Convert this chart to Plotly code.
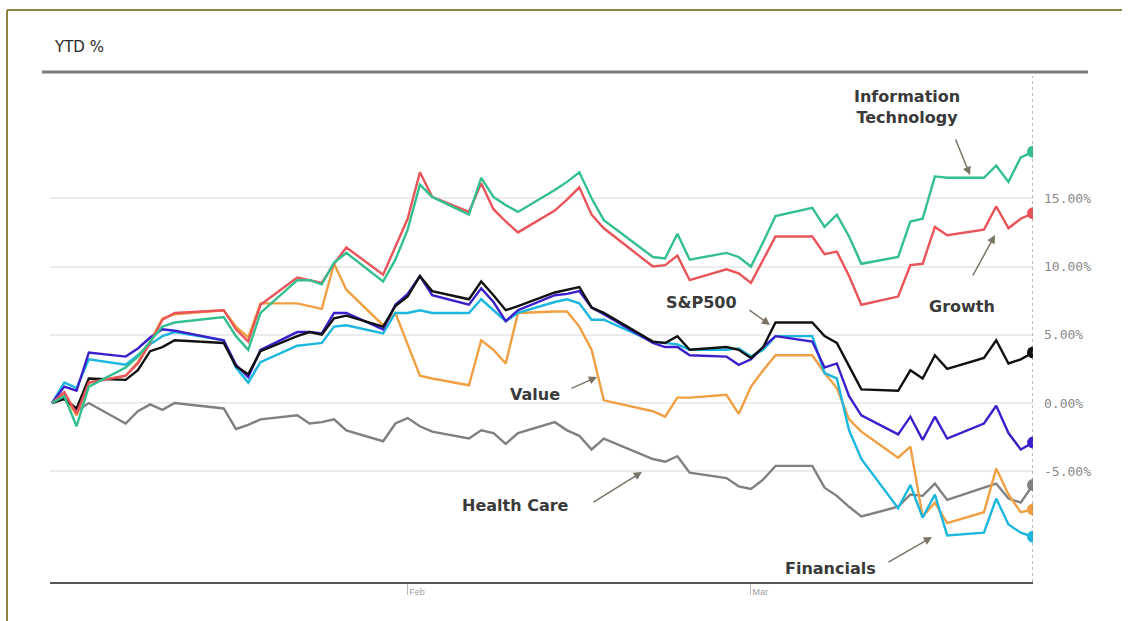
import plotly.graph_objects as go

# Trading days, Q1 2023 (calendar-date axis, weekends/holidays skipped)
dates = [
    "2023-01-03", "2023-01-04", "2023-01-05", "2023-01-06", "2023-01-09", "2023-01-10",
    "2023-01-11", "2023-01-12", "2023-01-13", "2023-01-17", "2023-01-18", "2023-01-19",
    "2023-01-20", "2023-01-23", "2023-01-24", "2023-01-25", "2023-01-26", "2023-01-27",
    "2023-01-30", "2023-01-31",
    "2023-02-01", "2023-02-02", "2023-02-03", "2023-02-06", "2023-02-07", "2023-02-08",
    "2023-02-09", "2023-02-10", "2023-02-13", "2023-02-14", "2023-02-15", "2023-02-16",
    "2023-02-17", "2023-02-21", "2023-02-22", "2023-02-23", "2023-02-24", "2023-02-27",
    "2023-02-28",
    "2023-03-01", "2023-03-02", "2023-03-03", "2023-03-06", "2023-03-07", "2023-03-08",
    "2023-03-09", "2023-03-10", "2023-03-13", "2023-03-14", "2023-03-15", "2023-03-16",
    "2023-03-17", "2023-03-20", "2023-03-21", "2023-03-22", "2023-03-23", "2023-03-24",
]

# YTD returns, %
info_tech = [
    0, 0.5, -1.7, 1.2, 2.6, 3.4, 4.5, 5.6, 5.9, 6.3, 4.9, 3.9, 6.6, 9.0, 9.0, 8.7, 10.3, 11.0, 8.9, 10.5,
    12.7, 16.0, 15.1, 13.8, 16.5, 15.1, 14.5, 14.0, 15.6, 16.2, 16.9, 15.0, 13.4, 10.7, 10.6, 12.4, 10.5, 11.0, 10.7,
    10.0, 11.8, 13.7, 14.3, 12.9, 13.8, 12.2, 10.2, 10.7, 13.3, 13.5, 16.6, 16.5, 16.5, 17.4, 16.2, 18.0, 18.4,
]
growth = [
    0, 0.8, -0.8, 1.5, 2.0, 2.9, 4.4, 6.1, 6.6, 6.8, 5.4, 4.5, 7.2, 9.2, 9.0, 8.8, 10.2, 11.4, 9.4, 11.5,
    13.5, 16.9, 15.1, 14.0, 16.1, 14.2, 13.3, 12.5, 14.1, 14.9, 15.8, 13.8, 12.8, 10.0, 10.1, 10.8, 9.0, 9.8, 9.5,
    8.8, 10.5, 12.2, 12.2, 10.9, 11.1, 9.3, 7.2, 7.8, 10.1, 10.2, 12.9, 12.3, 12.7, 14.4, 12.8, 13.5, 13.9,
]
sp500 = [
    0, 0.3, -0.4, 1.8, 1.7, 2.4, 3.8, 4.1, 4.6, 4.4, 2.7, 2.1, 3.8, 4.9, 5.2, 5.0, 6.2, 6.4, 5.6, 7.1,
    7.8, 9.3, 8.2, 7.6, 8.9, 7.9, 6.8, 7.1, 8.1, 8.3, 8.5, 7.0, 6.6, 4.5, 4.4, 4.9, 3.9, 4.1, 3.9,
    3.3, 4.1, 5.9, 5.9, 4.9, 4.4, 2.7, 1.0, 0.9, 2.4, 1.8, 3.5, 2.5, 3.3, 4.6, 2.9, 3.2, 3.7,
]
broad_index = [
    0, 1.2, 0.9, 3.7, 3.4, 4.0, 4.8, 5.4, 5.3, 4.6, 2.8, 1.9, 3.9, 5.2, 5.2, 5.1, 6.6, 6.6, 5.4, 7.2,
    8.0, 9.3, 7.9, 7.2, 8.4, 7.4, 6.0, 6.8, 7.9, 8.0, 8.2, 7.0, 6.5, 4.4, 4.1, 4.1, 3.5, 3.4, 2.8,
    3.2, 4.1, 4.9, 4.5, 2.6, 2.9, 0.5, -0.9, -2.3, -1.0, -2.7, -1.0, -2.6, -1.5, -0.2, -2.2, -3.4, -2.9,
]
financials = [
    0, 1.5, 1.1, 3.2, 2.8, 3.5, 4.3, 4.9, 5.2, 4.6, 2.6, 1.5, 3.0, 4.2, 4.3, 4.4, 5.6, 5.7, 5.1, 6.6,
    6.6, 6.8, 6.6, 6.6, 7.6, 6.8, 6.0, 6.6, 7.4, 7.6, 7.3, 6.1, 6.1, 4.5, 4.4, 4.3, 3.9, 3.9, 4.0,
    3.4, 3.9, 4.9, 4.9, 2.2, 1.8, -2.0, -4.1, -7.7, -6.0, -8.4, -6.7, -9.7, -9.5, -7.0, -8.9, -9.5, -9.8,
]
value = [
    0, 0.6, -0.9, 1.5, 2.0, 3.0, 4.5, 6.2, 6.5, 6.8, 5.6, 4.8, 7.3, 7.3, 7.1, 6.9, 10.2, 8.3, 5.7, 6.6,
    4.3, 2.0, 1.8, 1.3, 4.6, 3.9, 2.9, 6.6, 6.7, 6.7, 5.6, 3.9, 0.2, -0.6, -1.0, 0.4, 0.4, 0.6, -0.8,
    1.2, 2.4, 3.5, 3.5, 2.2, 1.1, -1.2, -2.1, -4.0, -3.2, -8.3, -7.3, -8.8, -8.0, -4.8, -6.7, -8.0, -7.8,
]
health_care = [
    0, 0.3, -0.6, 0.0, -1.5, -0.6, -0.1, -0.5, 0.0, -0.4, -1.9, -1.6, -1.2, -0.9, -1.5, -1.4, -1.2, -2.0, -2.8, -1.5,
    -1.1, -1.7, -2.1, -2.6, -2.0, -2.2, -3.0, -2.2, -1.4, -2.0, -2.4, -3.4, -2.6, -4.1, -4.3, -3.9, -5.1, -5.5, -6.1,
    -6.3, -5.6, -4.6, -4.6, -6.2, -6.8, -7.6, -8.3, -7.6, -6.7, -6.8, -5.9, -7.1, -6.2, -5.9, -7.0, -7.3, -6.0,
]

y_ticks = [-5, 0, 5, 10, 15]
y_tick_text = ["-5.00%", "0.00%", "5.00%", "10.00%", "15.00%"]
x_ticks = ["2023-02-01", "2023-03-01"]
x_tick_text = ["Feb", "Mar"]

lines = [
    ("Health Care", health_care, "#808080"),
    ("Value", value, "#f0a043"),
    ("Financials", financials, "#1bb7de"),
    ("Index", broad_index, "#3b1fcc"),
    ("S&P500", sp500, "#111111"),
    ("Growth", growth, "#e9545a"),
    ("Information Technology", info_tech, "#33bf8e"),
]

fig = go.Figure()
for name, vals, color in lines:
    fig.add_trace(go.Scatter(
        x=dates, y=vals, mode="lines", name=name,
        line=dict(color=color, width=2.4), hoverinfo="x+y+name",
    ))
    fig.add_trace(go.Scatter(
        x=[dates[-1]], y=[vals[-1]], mode="markers", showlegend=False,
        marker=dict(color=color, size=12), hoverinfo="skip",
    ))

# Pixel geometry of the plotting area
L, R, T, B = 50, 1033, 72, 582
W, H = R - L, B - T


def px(x):
    return (x - L) / W


def py(y):
    return (B - y) / H


label_font = dict(family="DejaVu Sans", size=16, color="#3a3a3a", weight="bold")

labels = [
    ("Information<br>Technology", 907, 107),
    ("Growth", 962, 306),
    ("S&P500", 701, 302),
    ("Value", 535, 394),
    ("Health Care", 515, 505),
    ("Financials", 830, 568),
]
annotations = [
    dict(text=t, x=px(x), y=py(y), xref="paper", yref="paper", showarrow=False,
         xanchor="center", yanchor="middle", font=label_font, align="center")
    for t, x, y in labels
]

# Callout arrows: head position, tail offset in pixels
arrows = [
    (970, 175, -15, -37),
    (995, 235, -23, 42),
    (770, 325, -22, -16),
    (597, 377, -27, 12),
    (642, 472, -50, 31),
    (932, 537, -45, 26),
]
for hx, hy, ax, ay in arrows:
    annotations.append(dict(
        text="", x=px(hx), y=py(hy), xref="paper", yref="paper",
        ax=ax, ay=ay, showarrow=True, arrowhead=2, arrowsize=1.1,
        arrowwidth=1.5, arrowcolor="#7b7365",
    ))

annotations.append(dict(
    text="YTD %", x=px(52), y=py(47), xref="paper", yref="paper", showarrow=False,
    xanchor="left", yanchor="middle",
    font=dict(family="DejaVu Sans", size=15, color="#2a2a2a"),
))

shapes = [
    # frame
    dict(type="line", xref="paper", yref="paper", x0=px(7), x1=px(1122), y0=py(10), y1=py(10),
         line=dict(color="#8f8244", width=2)),
    dict(type="line", xref="paper", yref="paper", x0=px(7), x1=px(7), y0=py(10), y1=py(625),
         line=dict(color="#8f8244", width=2)),
    # header rule
    dict(type="line", xref="paper", yref="paper", x0=px(42), x1=px(1088), y0=py(72), y1=py(72),
         line=dict(color="#7a7a7a", width=3)),
    # latest-date marker line
    dict(type="line", xref="x", yref="paper", x0=dates[-1], x1=dates[-1], y0=0, y1=py(76),
         line=dict(color="#777777", width=1, dash="dot")),
]

fig.update_layout(
    width=1135, height=621,
    margin=dict(l=L, r=1135 - R, t=T, b=621 - B),
    paper_bgcolor="white", plot_bgcolor="white",
    showlegend=False,
    annotations=annotations,
    shapes=shapes,
    xaxis=dict(
        type="date",
        range=["2023-01-02 20:00", "2023-03-24"],
        tickvals=x_ticks, ticktext=x_tick_text,
        ticks="outside", ticklen=11, tickcolor="#bbbbbb", tickwidth=1,
        ticklabelposition="outside right",
        tickfont=dict(family="Liberation Sans", size=9, color="#a0a0a0"),
        showgrid=False, zeroline=False,
        showline=True, linecolor="#555555", linewidth=2,
    ),
    yaxis=dict(
        side="right",
        range=[-13.11, 24.25],
        tickvals=y_ticks, ticktext=y_tick_text,
        tickfont=dict(family="DejaVu Sans Mono", size=13, color="#8a8a8a"),
        ticklabelstandoff=10,
        showgrid=True, gridcolor="#ececec", gridwidth=2,
        zeroline=False, showline=False, ticks="",
    ),
)

fig.write_html("out.html")
